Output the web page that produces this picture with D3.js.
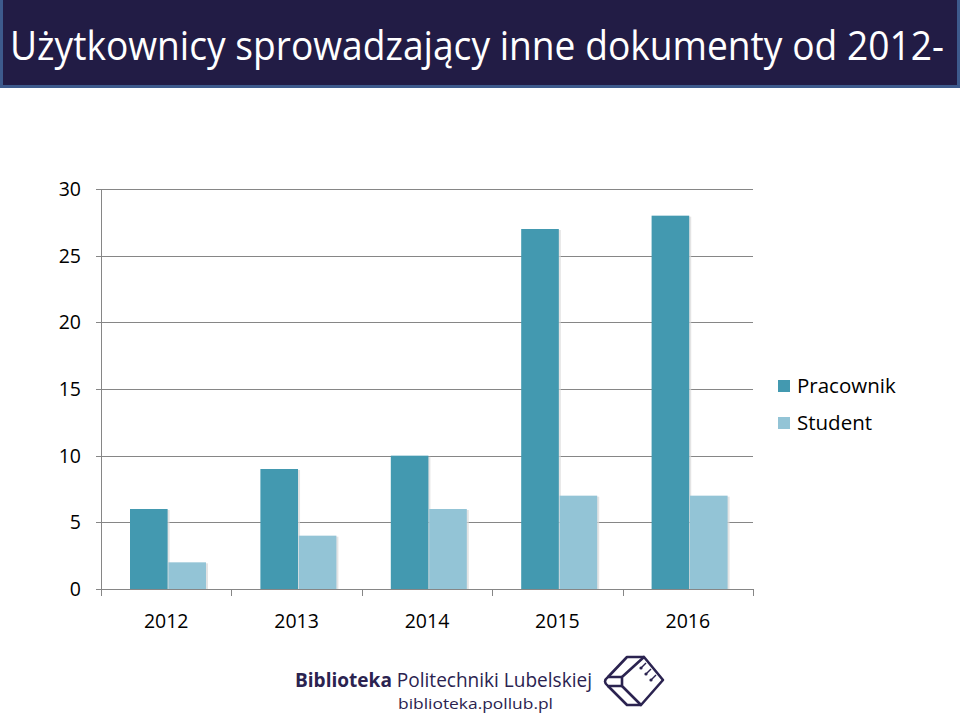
<!DOCTYPE html>
<html><head><meta charset="utf-8">
<script src="https://cdn.jsdelivr.net/npm/d3@7"></script>
<style>body{margin:0;background:#fff}svg{display:block}</style>
</head><body>
<script>
const years = ["2012","2013","2014","2015","2016"];
const seriesNames = ["Pracownik","Student"];
const pracownik = [6,9,10,27,28];
const student = [2,4,6,7,7];
const yTicks = [0,5,10,15,20,25,30];
const colors = ["#4399b0","#93c4d6"];
const titleText = "Użytkownicy sprowadzający inne dokumenty od 2012-";

const W=960,H=720;
const svg=d3.select("body").append("svg").attr("width",W).attr("height",H);
const font="Open Sans, Noto Sans, sans-serif";

// title bar
svg.append("rect").attr("x",1.5).attr("y",-3).attr("width",W-3).attr("height",89.5)
  .attr("fill","#221c45").attr("stroke","#3d5a8c").attr("stroke-width",3);
const tt=svg.append("text").attr("x",0).attr("y",0).attr("fill","#fff")
  .attr("font-family",font).attr("font-size",41).text(titleText);
const natW=tt.node().getComputedTextLength();
tt.attr("transform",`translate(10,60) scale(${934/natW},1)`);

const x0=101,x1=753,yTop=189,yBot=589;
const xBand=d3.scaleBand().domain(years).range([x0,x1]).padding(0);
const xInner=d3.scaleBand().domain(seriesNames).range([29,29+76]).paddingInner(0.02);
const y=d3.scaleLinear().domain([0,30]).range([yBot,yTop]);

// gridlines
svg.append("g").selectAll("line").data(yTicks).join("line")
  .attr("x1",x0-5).attr("x2",x1).attr("y1",d=>Math.round(y(d))+0.5).attr("y2",d=>Math.round(y(d))+0.5)
  .attr("stroke","#868686").attr("stroke-width",1);
// y axis line
svg.append("line").attr("x1",x0+0.5).attr("x2",x0+0.5).attr("y1",yTop).attr("y2",yBot)
  .attr("stroke","#868686");
// x ticks
const bounds=years.map(d=>xBand(d)).concat([x1]);
svg.append("g").selectAll("line").data(bounds).join("line")
  .attr("x1",d=>Math.round(d)+0.5).attr("x2",d=>Math.round(d)+0.5).attr("y1",yBot).attr("y2",yBot+7)
  .attr("stroke","#868686");

// y labels
svg.append("g").selectAll("text").data(yTicks).join("text")
  .attr("x",81).attr("y",d=>y(d)+7).attr("text-anchor","end")
  .attr("font-family",font).attr("font-size",19.5).attr("fill","#000").text(d=>d);
// x labels
svg.append("g").selectAll("text").data(years).join("text")
  .attr("x",d=>xBand(d)+xBand.bandwidth()/2).attr("y",628).attr("text-anchor","middle")
  .attr("font-family",font).attr("font-size",19.5).attr("fill","#000").text(d=>d);

// bars
const data=[pracownik,student];
const g=svg.append("g");
seriesNames.forEach((s,si)=>{
  const vals=data[si];
  g.append("g").selectAll("rect").data(years).join("rect")
    .attr("x",(d)=>xBand(d)+xInner(s)+2).attr("y",(d,i)=>y(vals[i])+1)
    .attr("width",xInner.bandwidth()).attr("height",(d,i)=>yBot-y(vals[i])-1)
    .attr("fill","#d9d9d9").attr("opacity",0.7);
  g.append("g").selectAll("rect").data(years).join("rect")
    .attr("x",(d)=>xBand(d)+xInner(s)).attr("y",(d,i)=>y(vals[i]))
    .attr("width",xInner.bandwidth()).attr("height",(d,i)=>yBot-y(vals[i]))
    .attr("fill",colors[si]);
});

// legend
const leg=svg.append("g");
seriesNames.forEach((s,i)=>{
  leg.append("rect").attr("x",778).attr("y",380+i*37).attr("width",12).attr("height",12).attr("fill",colors[i]);
  leg.append("text").attr("x",797).attr("y",393+i*37).attr("font-family",font).attr("font-size",20.5)
    .attr("fill","#000").text(s);
});

// logo
const logoColor="#2b2350";
const lt=svg.append("text").attr("x",295).attr("y",687).attr("font-family",font).attr("font-size",20)
  .attr("fill",logoColor).attr("textLength",297).attr("lengthAdjust","spacingAndGlyphs");
lt.append("tspan").attr("font-weight","bold").text("Biblioteka");
lt.append("tspan").text(" Politechniki Lubelskiej");
svg.append("text").attr("x",398).attr("y",709).attr("font-family",font).attr("font-size",14.5)
  .attr("fill",logoColor).attr("textLength",155).attr("lengthAdjust","spacingAndGlyphs").text("biblioteka.pollub.pl");
const ic=svg.append("g").attr("fill","none").attr("stroke",logoColor).attr("stroke-width",2.6).attr("stroke-linejoin","round");
ic.append("path").attr("d","M622,677 L644,657 L663,680 L641,705 L622,686 Z");
ic.append("path").attr("d","M622,677 L608,677 Q602,681.5 608,686 L622,686");
ic.append("path").attr("d","M608,677 L627,657 L644,657");
ic.append("path").attr("d","M608,686 L627,705 L641,705");
[[641,668],[646,674],[651,680]].forEach(p=>{
  ic.append("line").attr("x1",p[0]).attr("y1",p[1]).attr("x2",p[0]+5).attr("y2",p[1]-5).attr("stroke-width",1.5);
  ic.append("circle").attr("cx",p[0]).attr("cy",p[1]).attr("r",1.6).attr("fill",logoColor).attr("stroke","none");
});
</script>
</body></html>
